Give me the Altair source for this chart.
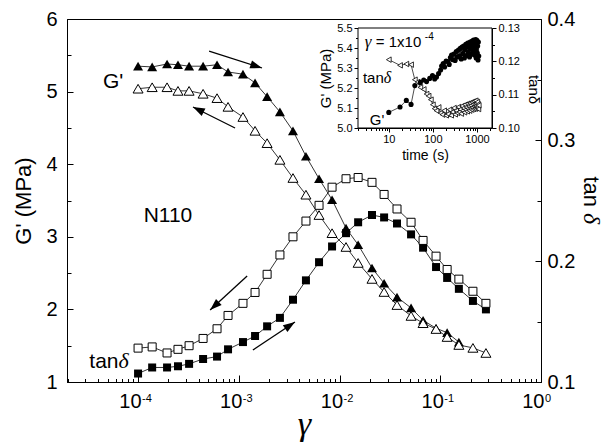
import altair as alt
import pandas as pd

# ---------------- main panel data ----------------
gamma = [1.0e-4, 1.38e-4, 1.94e-4, 2.49e-4, 3.21e-4, 4.42e-4, 6.08e-4, 7.82e-4,
         1.10e-3, 1.45e-3, 1.91e-3, 2.56e-3, 3.45e-3, 4.64e-3, 6.26e-3, 8.43e-3,
         1.16e-2, 1.53e-2, 2.10e-2, 2.77e-2, 3.72e-2, 5.13e-2, 6.75e-2, 9.08e-2,
         0.117, 0.153, 0.211, 0.284]
g_up = [5.35, 5.34, 5.38, 5.37, 5.35, 5.35, 5.37, 5.27, 5.24, 5.12, 4.93, 4.72, 4.46,
        4.11, 3.80, 3.51, 3.12, 2.89, 2.57, 2.36, 2.17, 2.02, 1.85, 1.74, 1.68, 1.55]
g_down = [5.04, 5.06, 5.06, 5.01, 5.01, 4.97, 4.91, 4.79, 4.65, 4.46, 4.29, 4.06, 3.81,
          3.58, 3.30, 3.05, 2.86, 2.64, 2.42, 2.24, 2.06, 1.91, 1.81, 1.73, 1.62, 1.51,
          1.47, 1.40]
tan_up = [0.107, 0.112, 0.112, 0.113, 0.115, 0.119, 0.121, 0.127, 0.133, 0.138, 0.146,
          0.153, 0.168, 0.184, 0.199, 0.212, 0.223, 0.232, 0.238, 0.236, 0.231, 0.222,
          0.211, 0.195, 0.186, 0.177, 0.167, 0.160]
tan_down = [0.128, 0.129, 0.124, 0.127, 0.130, 0.136, 0.144, 0.155, 0.165, 0.174, 0.189,
            0.205, 0.220, 0.233, 0.246, 0.261, 0.268, 0.269, 0.265, 0.255, 0.243, 0.232,
            0.217, 0.204, 0.193, 0.185, 0.175, 0.165]

# ---------------- inset data ----------------
t_g = [10, 18, 25, 32, 39, 52, 62, 72, 85, 98, 110, 121, 135, 150, 158, 172, 185, 200,
       219, 235, 250, 266, 280, 300, 320, 340, 360, 380, 400, 420, 440, 460, 480, 500,
       520, 540, 560, 580, 600, 620, 640, 660, 680, 700, 720, 740, 760, 780, 800, 820,
       840, 860, 880, 900, 920, 940, 960, 980, 1000, 1020, 1040, 1060, 1080, 1100]
g_inset = [5.078, 5.105, 5.138, 5.118, 5.212, 5.228, 5.240, 5.232, 5.248, 5.262, 5.245,
           5.255, 5.272, 5.290, 5.310, 5.322, 5.305, 5.335, 5.332, 5.318, 5.352, 5.365,
           5.342, 5.370, 5.338, 5.382, 5.355, 5.390, 5.360, 5.398, 5.345, 5.405, 5.372,
           5.410, 5.350, 5.392, 5.418, 5.362, 5.405, 5.425, 5.378, 5.412, 5.355, 5.430,
           5.395, 5.418, 5.370, 5.435, 5.402, 5.382, 5.440, 5.410, 5.365, 5.425, 5.390,
           5.442, 5.350, 5.418, 5.438, 5.375, 5.410, 5.340, 5.430, 5.360]
t_d = [10, 18, 25, 32, 39, 45, 52, 62, 72, 80, 90, 100, 110, 121, 135, 150, 165, 180,
       200, 220, 240, 260, 280, 300, 320, 340, 360, 380, 400, 420, 440, 460, 480, 500,
       520, 540, 560, 580, 600, 620, 640, 660, 680, 700, 720, 740, 760, 780, 800, 820,
       840, 860, 880, 900, 920, 940, 960, 980, 1000, 1020, 1040, 1060, 1080, 1100]
d_inset = [0.1205, 0.1188, 0.1192, 0.1190, 0.1145, 0.1138, 0.1122, 0.1116, 0.1102,
           0.1096, 0.1085, 0.1070, 0.1058, 0.1052, 0.1062, 0.1045, 0.1040, 0.1052,
           0.1038, 0.1042, 0.1055, 0.1038, 0.1048, 0.1060, 0.1041, 0.1052, 0.1045,
           0.1063, 0.1048, 0.1056, 0.1043, 0.1066, 0.1052, 0.1060, 0.1047, 0.1070,
           0.1055, 0.1063, 0.1050, 0.1073, 0.1058, 0.1066, 0.1052, 0.1075, 0.1060,
           0.1068, 0.1055, 0.1078, 0.1062, 0.1071, 0.1057, 0.1080, 0.1065, 0.1073,
           0.1058, 0.1082, 0.1066, 0.1074, 0.1060, 0.1078, 0.1063, 0.1071, 0.1057,
           0.1068]

# ---------------- ticks ----------------
x_major = [1e-4, 1e-3, 1e-2, 1e-1, 1.0]
x_exp = ["-4", "-3", "-2", "-1", "0"]
x_minor = [m * 10.0 ** e for e in range(-5, 0) for m in range(2, 10)]
g_major = [1, 2, 3, 4, 5, 6]
g_minor = [1.5, 2.5, 3.5, 4.5, 5.5]
t_major = [0.1, 0.2, 0.3, 0.4]
t_minor = [0.15, 0.25, 0.35]
ti_major = [10, 100, 1000]
ti_minor = [m * 10.0 ** e for e in range(0, 4) for m in range(2, 10) if 2 <= m * 10.0 ** e <= 2000]
gi_major = [5.0, 5.1, 5.2, 5.3, 5.4, 5.5]
gi_minor = [5.05, 5.15, 5.25, 5.35, 5.45]
di_major = [0.10, 0.11, 0.12, 0.13]
di_minor = [0.105, 0.115, 0.125]

# ---------------- annotations ----------------
ann_g = [5.65e-5, 1.98e-4]
ann_y = [5.05, 3.204]
ann_t = ["G'", "N110"]
tan_lbl_g = [6.4e-5]
tan_lbl_y = [1.193]
arrow_id = [1, 1, 2, 2, 3, 3, 4, 4]
arrow_g = [5.07e-4, 1.70e-3, 9.18e-4, 3.51e-4, 1.21e-3, 5.19e-4, 1.38e-3, 3.61e-3]
arrow_y = [5.559, 5.325, 4.499, 4.788, 2.460, 1.992, 1.441, 1.826]
head_g = [1.70e-3, 3.51e-4, 5.19e-4, 3.61e-3]
head_y = [5.325, 4.788, 1.992, 1.826]
head_ang = [17.8, 206.6, 137.4, 326.3]

W, H = 474, 363
FONT = "Liberation Sans"
SERIF = "Liberation Serif"

XM = alt.Scale(type="log", domain=[1.97e-5, 1.0], nice=False)
YG = alt.Scale(domain=[1, 6], nice=False, zero=False)
YT = alt.Scale(domain=[0.1, 0.4], nice=False, zero=False)
XI = alt.Scale(type="log", domain=[2, 2200], range=[291, 425], nice=False)
YGI = alt.Scale(domain=[5.0, 5.5], range=[109, 9], nice=False, zero=False)
YTI = alt.Scale(domain=[0.10, 0.13], range=[109, 9], nice=False, zero=False)


def tick_axis(orient, values, size, offset):
    return alt.Axis(orient=orient, values=values, tickSize=size, ticks=True,
                    labels=False, domain=False, offset=offset, grid=False, title=None,
                    tickColor="black", tickWidth=1)


df_ft = pd.DataFrame({"x": gamma[:len(g_up)], "y": g_up})
df_ot = pd.DataFrame({"x": gamma, "y": g_down})
df_fs = pd.DataFrame({"x": gamma, "y": tan_up})
df_os = pd.DataFrame({"x": gamma, "y": tan_down})
df_G = pd.concat([df_ft.assign(s="up"), df_ot.assign(s="down")])
df_T = pd.concat([df_fs.assign(s="up"), df_os.assign(s="down")])
df_ig = pd.DataFrame({"x": t_g, "y": g_inset})
df_id = pd.DataFrame({"x": t_d, "y": d_inset})

layers = []

# inset frame
layers.append(
    alt.Chart(pd.DataFrame({"a": [0]})).mark_rect(fill="white", stroke="black", strokeWidth=1)
    .encode(x=alt.XDatum(2.0, scale=XI, axis=None), x2=alt.X2Datum(2200.0),
            y=alt.YDatum(5.0, scale=YGI, axis=None), y2=alt.Y2Datum(5.5))
)

# main lines (carry inward minor ticks)
layers.append(
    alt.Chart(df_G).mark_line(color="black", strokeWidth=0.8).encode(
        x=alt.X("x:Q", scale=XM, axis=tick_axis("top", x_minor, 3.5, -H)),
        y=alt.Y("y:Q", scale=YG, axis=tick_axis("right", g_minor, 4, -W)),
        detail="s:N")
)
layers.append(
    alt.Chart(df_T).mark_line(color="black", strokeWidth=0.8).encode(
        x=alt.X("x:Q", scale=XM, axis=None),
        y=alt.Y("y:Q", scale=YT, axis=tick_axis("left", t_minor, 4, -W)),
        detail="s:N")
)

# filled triangles: carries the labelled bottom and left axes
layers.append(
    alt.Chart(df_ft).mark_point(shape="triangle-up", filled=True, color="black", size=100, opacity=1)
    .encode(
        x=alt.X("x:Q", scale=XM, axis=alt.Axis(
            orient="bottom", values=x_major, labelExpr="'10'", ticks=True, tickSize=0,
            labelPadding=9, labelAlign="right", labelOffset=3, labelFontSize=20,
            domain=True, grid=False, title="γ", titleFont=SERIF, titleFontStyle="italic",
            titleFontSize=34, titleX=W / 2, titleY=52, titleBaseline="alphabetic",
            titleAlign="center")),
        y=alt.Y("y:Q", scale=YG, axis=alt.Axis(
            orient="left", values=g_major, ticks=True, tickSize=0, labelPadding=10,
            labelFontSize=20, domain=True, grid=False, format="d", title="G' (MPa)",
            titleFontSize=22, titleAngle=270, titleX=-37, titleY=H / 2,
            titleBaseline="alphabetic", titleAlign="center")))
)
# open triangles: inward major ticks
layers.append(
    alt.Chart(df_ot).mark_point(shape="triangle-up", filled=True, fill="white", stroke="black",
                                strokeWidth=1, size=100, opacity=1)
    .encode(
        x=alt.X("x:Q", scale=XM, axis=tick_axis("top", x_major, 7, -H)),
        y=alt.Y("y:Q", scale=YG, axis=tick_axis("right", g_major, 6, -W)))
)
# filled squares: right labelled axis
layers.append(
    alt.Chart(df_fs).mark_point(shape="square", filled=True, color="black", size=64, opacity=1)
    .encode(
        x=alt.X("x:Q", scale=XM, axis=None),
        y=alt.Y("y:Q", scale=YT, axis=alt.Axis(
            orient="right", values=t_major, ticks=True, tickSize=0, labelPadding=6,
            labelFontSize=20, domain=True, grid=False, format=".1f", title=None)))
)
# open squares: inward right major ticks
layers.append(
    alt.Chart(df_os).mark_point(shape="square", filled=True, fill="white", stroke="black",
                                strokeWidth=1, size=64, opacity=1)
    .encode(
        x=alt.X("x:Q", scale=XM, axis=None),
        y=alt.Y("y:Q", scale=YT, axis=tick_axis("left", t_major, 6, -W)))
)

# ---- inset ----
layers.append(
    alt.Chart(df_ig).mark_line(color="black", strokeWidth=0.7).encode(
        x=alt.X("x:Q", scale=XI, axis=tick_axis("bottom", ti_minor, 2.5, -254)),
        y=alt.Y("y:Q", scale=YGI, axis=tick_axis("left", gi_minor, 2.5, -291)))
)
layers.append(
    alt.Chart(df_id).mark_line(color="black", strokeWidth=0.7).encode(
        x=alt.X("x:Q", scale=XI, axis=None),
        y=alt.Y("y:Q", scale=YTI, axis=tick_axis("right", di_minor, 2.5, -49)))
)
layers.append(
    alt.Chart(df_id).mark_point(shape="triangle-left", filled=True, fill="white", stroke="black",
                                strokeWidth=0.8, size=30, opacity=1)
    .encode(
        x=alt.X("x:Q", scale=XI, axis=None),
        y=alt.Y("y:Q", scale=YTI, axis=alt.Axis(
            orient="right", offset=-49, values=di_major, format=".2f", ticks=True,
            tickSize=4, labelPadding=2, labelFontSize=11, domain=True, grid=False,
            title="tanδ", titleFontSize=15, titleAngle=90, titleX=36, titleY=70,
            titleBaseline="alphabetic", titleAlign="center")))
)
layers.append(
    alt.Chart(df_ig).mark_circle(color="black", size=26, opacity=1)
    .encode(
        x=alt.X("x:Q", scale=XI, axis=alt.Axis(
            orient="bottom", offset=-254, values=ti_major, format="d", ticks=True,
            tickSize=4, labelPadding=1, labelFontSize=11, domain=True, grid=False,
            title="time  (s)", titleFontSize=14, titleX=358, titleY=31,
            titleBaseline="alphabetic", titleAlign="center")),
        y=alt.Y("y:Q", scale=YGI, axis=alt.Axis(
            orient="left", offset=-291, values=gi_major, format=".1f", ticks=True,
            tickSize=4, labelPadding=2, labelFontSize=11, domain=True, grid=False,
            title="G' (MPa)", titleFontSize=15, titleAngle=270, titleX=-28, titleY=59,
            titleBaseline="alphabetic", titleAlign="center")))
)

# inset annotations
def inset_text(t, g, s, align, size, font=FONT, style="normal"):
    return alt.Chart(pd.DataFrame({"x": [t], "y": [g], "s": [s]})).mark_text(
        align=align, baseline="alphabetic", fontSize=size, font=font, fontStyle=style,
        color="black").encode(
        x=alt.X("x:Q", scale=XI, axis=None), y=alt.Y("y:Q", scale=YGI, axis=None),
        text="s:N")

layers.append(inset_text(2.85, 5.405, "γ", "left", 17, SERIF, "italic"))
layers.append(inset_text(5.07, 5.405, "= 1x10", "left", 15))
layers.append(inset_text(65.8, 5.44, "-4", "left", 10))
layers.append(inset_text(7.7, 5.225, "tan", "right", 15))
layers.append(inset_text(7.7, 5.225, "δ", "left", 16, SERIF, "italic"))
layers.append(inset_text(3.7, 5.015, "G'", "left", 15))

# ---- main annotations ----
layers.append(
    alt.Chart(pd.DataFrame({"x": ann_g, "y": ann_y, "s": ann_t})).mark_text(
        align="center", baseline="alphabetic", fontSize=21, font=FONT, color="black")
    .encode(x=alt.X("x:Q", scale=XM, axis=None), y=alt.Y("y:Q", scale=YG, axis=None),
            text="s:N")
)
layers.append(
    alt.Chart(pd.DataFrame({"x": tan_lbl_g, "y": tan_lbl_y, "s": ["tan"]})).mark_text(
        align="right", baseline="alphabetic", fontSize=21, font=FONT, color="black")
    .encode(x=alt.X("x:Q", scale=XM, axis=None), y=alt.Y("y:Q", scale=YG, axis=None),
            text="s:N")
)
layers.append(
    alt.Chart(pd.DataFrame({"x": tan_lbl_g, "y": tan_lbl_y, "s": ["δ"]})).mark_text(
        align="left", baseline="alphabetic", fontSize=22, font=SERIF, fontStyle="italic",
        color="black")
    .encode(x=alt.X("x:Q", scale=XM, axis=None), y=alt.Y("y:Q", scale=YG, axis=None),
            text="s:N")
)
# exponents of the x tick labels
layers.append(
    alt.Chart(pd.DataFrame({"x": x_major, "s": x_exp})).mark_text(
        align="left", baseline="alphabetic", dx=4, fontSize=11, font=FONT, color="black")
    .encode(x=alt.X("x:Q", scale=XM, axis=None), y=alt.value(H + 20), text="s:N")
)
# right axis title "tan δ"
layers.append(
    alt.Chart(pd.DataFrame({"s": ["tan"]})).mark_text(
        align="right", baseline="alphabetic", angle=90, fontSize=22, font=FONT, color="black")
    .encode(x=alt.value(W + 43), y=alt.value(188), text="s:N")
)
layers.append(
    alt.Chart(pd.DataFrame({"s": ["δ"]})).mark_text(
        align="left", baseline="alphabetic", angle=90, fontSize=24, font=SERIF,
        fontStyle="italic", color="black")
    .encode(x=alt.value(W + 43), y=alt.value(194), text="s:N")
)

# arrows
layers.append(
    alt.Chart(pd.DataFrame({"id": arrow_id, "x": arrow_g, "y": arrow_y})).mark_line(
        color="black", strokeWidth=1.3)
    .encode(x=alt.X("x:Q", scale=XM, axis=None), y=alt.Y("y:Q", scale=YG, axis=None),
            detail="id:N")
)
layers.append(
    alt.Chart(pd.DataFrame({"x": head_g, "y": head_y, "a": head_ang})).mark_point(
        shape="M0,0L-2,-0.7L-2,0.7Z", filled=True, color="black", size=140, opacity=1)
    .encode(x=alt.X("x:Q", scale=XM, axis=None), y=alt.Y("y:Q", scale=YG, axis=None),
            angle=alt.Angle("a:Q", scale=None))
)

chart = (
    alt.layer(*layers)
    .resolve_scale(x="independent", y="independent")
    .properties(width=W, height=H, autosize=alt.AutoSizeParams(type="none"),
                padding={"left": 67, "top": 19, "right": 67, "bottom": 66},
                background="white")
    .configure_view(stroke="black", strokeWidth=1)
    .configure_axis(labelFont=FONT, titleFont=FONT, labelColor="black", titleColor="black",
                    domainColor="black", tickColor="black", titleFontWeight="normal",
                    labelFlush=False, labelOverlap=False, domainWidth=1)
)

chart.save("out.html", embed_options={"renderer": "svg", "actions": False})
